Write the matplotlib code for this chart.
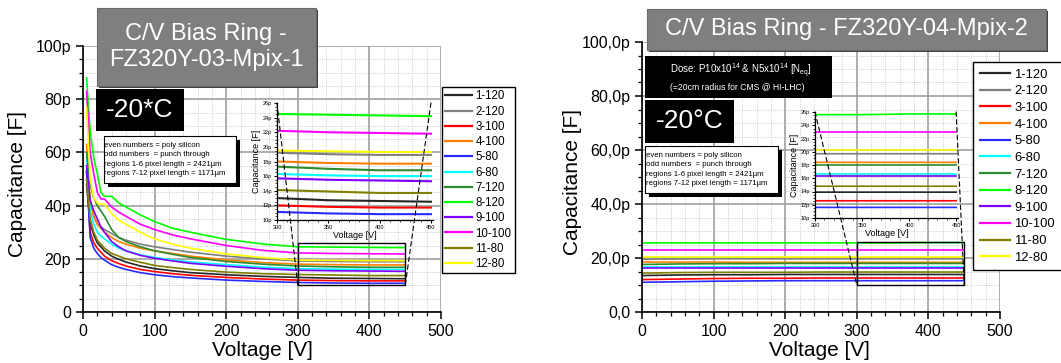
import matplotlib
matplotlib.use("Agg")
import matplotlib.pyplot as plt
from matplotlib import ticker
from matplotlib.patches import Rectangle, ConnectionPatch

plt.rcParams['font.family'] = ['Liberation Sans', 'DejaVu Sans']
plt.rcParams['mathtext.default'] = 'regular'

# ---------------- data ----------------
labels = ['1-120', '2-120', '3-100', '4-100', '5-80', '6-80',
          '7-120', '8-120', '9-100', '10-100', '11-80', '12-80']
colors = ['#262626', '#7f7f7f', '#ff0000', '#ff8000', '#2a2aff', '#00ffff',
          '#2e8b2e', '#00ff00', '#8000ff', '#ff00ff', '#808000', '#ffff00']

# left panel: FZ320Y-03-Mpix-1
volt_left = [5, 10, 15, 20, 25, 30, 40, 50, 60, 80, 100, 125, 150, 200, 250, 300, 350, 400, 450]
cap_left_1_120 = [48, 33, 29, 26, 24.5, 23, 21, 19.8, 18.8, 17.3, 16.3, 15.5, 14.8, 14.0, 13.4, 13.0, 12.7, 12.6, 12.5]
cap_left_2_120 = [52, 42, 36, 33, 32, 31, 29.5, 28, 27, 25.5, 24.5, 23.5, 22.5, 21.0, 20.0, 19.2, 19.0, 18.9, 18.9]
cap_left_3_100 = [53, 30, 26, 24, 22.5, 21, 19.3, 18.2, 17.3, 16.0, 15.2, 14.4, 13.8, 13.0, 12.4, 12.0, 11.8, 11.7, 11.7]
cap_left_4_100 = [63, 42, 36, 33, 31.5, 30, 28, 26.5, 25.5, 24.0, 23.0, 22.0, 21.0, 19.6, 18.6, 18.0, 17.8, 17.7, 17.7]
cap_left_5_80 = [53, 28, 24, 22, 20.5, 19.5, 17.8, 16.8, 16.0, 14.8, 14.0, 13.3, 12.8, 12.0, 11.5, 11.1, 10.9, 10.8, 10.8]
cap_left_6_80 = [58, 38, 33, 30, 28.5, 27.5, 25.5, 24.0, 23.0, 21.5, 20.5, 19.6, 18.8, 17.8, 16.9, 16.3, 16.1, 16.0, 16.0]
cap_left_7_120 = [60, 48, 43, 40, 38, 36, 31, 28, 26.5, 24.5, 23.0, 21.7, 20.5, 19.0, 18.0, 17.3, 17.0, 16.8, 16.8]
cap_left_8_120 = [88, 68, 58, 52, 45, 43.5, 43.5, 41, 39.5, 36.5, 34, 31.5, 30, 27.3, 25.6, 24.5, 24.4, 24.3, 24.2]
cap_left_9_100 = [55, 42, 38, 35, 32, 30, 26.5, 24.5, 23.0, 21.3, 20.2, 19.2, 18.3, 17.2, 16.3, 15.7, 15.5, 15.4, 15.3]
cap_left_10_100 = [83, 60, 52, 45, 42.5, 42.5, 39.5, 37.5, 36.0, 33.0, 31.0, 29.0, 27.5, 25.0, 23.2, 22.2, 22.0, 21.9, 21.8]
cap_left_11_80 = [50, 35, 30, 27, 25.5, 24, 22, 21, 20, 18.7, 17.5, 16.7, 16.0, 15.0, 14.4, 14.1, 13.9, 13.7, 13.7]
cap_left_12_80 = [77, 50, 43, 41, 40.5, 40.5, 37, 34.5, 33, 30, 27.5, 25.5, 24, 21.8, 20.5, 19.5, 19.4, 19.3, 19.3]

# right panel: FZ320Y-04-Mpix-2 (irradiated)
volt_right = [0, 25, 50, 100, 150, 200, 250, 300, 350, 400, 450]
cap_right_1_120 = [13.5, 13.6, 13.7, 13.8, 13.8, 13.9, 13.9, 13.9, 13.9, 13.9, 13.9]
cap_right_2_120 = [19.5, 19.6, 19.6, 19.7, 19.7, 19.7, 19.7, 19.7, 19.7, 19.7, 19.7]
cap_right_3_100 = [12.0, 12.1, 12.2, 12.4, 12.5, 12.5, 12.6, 12.6, 12.6, 12.6, 12.6]
cap_right_4_100 = [18.5, 18.5, 18.5, 18.5, 18.4, 18.4, 18.4, 18.4, 18.4, 18.4, 18.4]
cap_right_5_80 = [11.0, 11.1, 11.2, 11.4, 11.5, 11.6, 11.6, 11.6, 11.6, 11.6, 11.6]
cap_right_6_80 = [16.7, 16.7, 16.7, 16.7, 16.7, 16.7, 16.7, 16.7, 16.7, 16.7, 16.7]
cap_right_7_120 = [17.6, 17.7, 17.8, 17.9, 17.9, 18.0, 18.0, 18.0, 18.0, 18.0, 18.0]
cap_right_8_120 = [25.6, 25.6, 25.6, 25.6, 25.6, 25.6, 25.6, 25.6, 25.6, 25.7, 25.7]
cap_right_9_100 = [16.4, 16.4, 16.4, 16.4, 16.4, 16.4, 16.4, 16.4, 16.4, 16.4, 16.4]
cap_right_10_100 = [23.0, 23.0, 23.0, 23.0, 23.0, 23.0, 23.0, 23.0, 23.0, 23.0, 23.0]
cap_right_11_80 = [14.4, 14.5, 14.6, 14.7, 14.7, 14.7, 14.8, 14.8, 14.8, 14.8, 14.8]
cap_right_12_80 = [20.3, 20.3, 20.3, 20.3, 20.3, 20.3, 20.3, 20.3, 20.3, 20.3, 20.3]

left_series = [cap_left_1_120, cap_left_2_120, cap_left_3_100, cap_left_4_100,
               cap_left_5_80, cap_left_6_80, cap_left_7_120, cap_left_8_120,
               cap_left_9_100, cap_left_10_100, cap_left_11_80, cap_left_12_80]
right_series = [cap_right_1_120, cap_right_2_120, cap_right_3_100, cap_right_4_100,
                cap_right_5_80, cap_right_6_80, cap_right_7_120, cap_right_8_120,
                cap_right_9_100, cap_right_10_100, cap_right_11_80, cap_right_12_80]

W, H = 1061, 363
fig = plt.figure(figsize=(W / 100, H / 100), dpi=100)
fig.patch.set_facecolor('white')


def fr(x0, y0, x1, y1):
    """pixel box (top-left origin) -> figure fraction rect"""
    return [x0 / W, 1 - y1 / H, (x1 - x0) / W, (y1 - y0) / H]


def style_main(ax, fmt):
    ax.set_xlim(0, 500)
    ax.set_ylim(0, 100)
    for s in ['top', 'right']:
        ax.spines[s].set_visible(False)
    for s in ['left', 'bottom']:
        ax.spines[s].set_linewidth(1.2)
    ax.xaxis.set_major_locator(ticker.MultipleLocator(100))
    ax.xaxis.set_minor_locator(ticker.MultipleLocator(20))
    ax.yaxis.set_major_locator(ticker.MultipleLocator(20))
    ax.yaxis.set_minor_locator(ticker.MultipleLocator(5))
    ax.yaxis.set_major_formatter(ticker.FuncFormatter(fmt))
    ax.tick_params(which='major', length=5, width=1.1, labelsize=11.5, direction='out')
    ax.tick_params(which='minor', length=3, width=0.9, direction='out')
    ax.grid(which='major', color='#a0a0a0', lw=1.2, ls='-')
    ax.grid(which='minor', color='#bdbdbd', lw=0.6, ls=':')
    ax.set_axisbelow(True)
    ax.set_xlabel('Voltage [V]', fontsize=15, va='center')
    ax.set_ylabel('Capacitance [F]', fontsize=15, va='center')


def style_inset(ins, ls, lbl):
    ins.set_xlim(300, 452)
    ins.set_ylim(10, 26)
    ins.patch.set_facecolor('none')
    for s in ['top', 'right']:
        ins.spines[s].set_visible(False)
    for s in ['left', 'bottom']:
        ins.spines[s].set_linewidth(0.9)
    ins.xaxis.set_major_locator(ticker.FixedLocator([300, 350, 400, 450]))
    ins.xaxis.set_minor_locator(ticker.MultipleLocator(10))
    ins.yaxis.set_major_locator(ticker.MultipleLocator(2))
    ins.yaxis.set_minor_locator(ticker.MultipleLocator(0.5))
    ins.yaxis.set_major_formatter(ticker.FuncFormatter(lambda v, p: f'{v:.0f}p'))
    ins.tick_params(which='major', length=2.5, width=0.7, labelsize=ls, pad=1)
    ins.tick_params(which='minor', length=1.5, width=0.5)
    ins.set_xlabel('Voltage [V]', fontsize=lbl, labelpad=1)
    ins.set_ylabel('Capacitance [F]', fontsize=lbl, labelpad=1)


fmt_left = lambda v, p: '0' if v == 0 else f'{v:.0f}p'
fmt_right = lambda v, p: '0,0' if v == 0 else (f'{v:.1f}p').replace('.', ',')

# ---------------- left panel ----------------
axL = fig.add_axes(fr(83, 46, 441, 312))
style_main(axL, fmt_left)
linesL = []
for lab, col, ys in zip(labels, colors, left_series):
    ln, = axL.plot(volt_left, ys, color=col, lw=1.2, label=lab)
    linesL.append(ln)
axL.xaxis.set_label_coords(0.5, -0.143)
axL.yaxis.set_label_coords(-0.184, 0.48)
axL.add_patch(Rectangle((300, 10), 150, 16, fill=False, ec='black', lw=1.0, zorder=5))

insL = fig.add_axes(fr(277, 103, 433, 220))
for col, ys in zip(colors, left_series):
    insL.plot(volt_left, ys, color=col, lw=1.5)
style_inset(insL, 4, 6.5)

for xa, xb in [(300, 300), (450, 450)]:
    cp = ConnectionPatch(xyA=(xa, 26), coordsA=insL.transData,
                         xyB=(xb, 10), coordsB=axL.transData,
                         ls=(0, (4, 3)), color='black', lw=0.8, zorder=6)
    fig.add_artist(cp)

legL = axL.legend(handles=linesL, loc='upper left', bbox_to_anchor=(442 / W, 1 - 87 / H),
                  bbox_transform=fig.transFigure, borderaxespad=0, fontsize=8.3,
                  frameon=True, fancybox=False, edgecolor='black', framealpha=1,
                  handlelength=2.34, handletextpad=0.26, labelspacing=0.28, borderpad=0.3)
legL.get_frame().set_linewidth(1.0)
for h in legL.legend_handles:
    h.set_linewidth(1.6)

# ---------------- right panel ----------------
axR = fig.add_axes(fr(642, 42, 1000, 312))
style_main(axR, fmt_right)
linesR = []
for lab, col, ys in zip(labels, colors, right_series):
    ln, = axR.plot(volt_right, ys, color=col, lw=1.2, label=lab)
    linesR.append(ln)
axR.xaxis.set_label_coords(0.497, -0.143)
axR.yaxis.set_label_coords(-0.193, 0.48)
axR.add_patch(Rectangle((300, 10), 150, 16, fill=False, ec='black', lw=1.0, zorder=5))

insR = fig.add_axes(fr(815, 112, 958, 218))
for col, ys in zip(colors, right_series):
    insR.plot(volt_right, ys, color=col, lw=1.2)
style_inset(insR, 4, 6.5)

for xa, xb in [(300, 300), (450, 450)]:
    cp = ConnectionPatch(xyA=(xa, 26), coordsA=insR.transData,
                         xyB=(xb, 10), coordsB=axR.transData,
                         ls=(0, (4, 3)), color='black', lw=0.8, zorder=6)
    fig.add_artist(cp)

legR = axR.legend(handles=linesR, loc='upper left', bbox_to_anchor=(973 / W, 1 - 62 / H),
                  bbox_transform=fig.transFigure, borderaxespad=0, fontsize=9.4,
                  frameon=True, fancybox=False, edgecolor='black', framealpha=1,
                  handlelength=2.37, handletextpad=0.3, labelspacing=0.345, borderpad=0.5)
legR.get_frame().set_linewidth(1.0)
for h in legR.legend_handles:
    h.set_linewidth(1.6)


# ---------------- annotation boxes ----------------
def box(x0, y0, x1, y1, fc, ec='none', lw=0, z=7):
    r = Rectangle((x0 / W, 1 - y1 / H), (x1 - x0) / W, (y1 - y0) / H,
                  transform=fig.transFigure, facecolor=fc, edgecolor=ec, lw=lw, zorder=z)
    fig.add_artist(r)


def ftext(x, y, s, **kw):
    fig.text(x / W, 1 - y / H, s, zorder=9, **kw)


# left title
box(99, 10, 318, 88, '#404040', z=7)
box(97, 8, 316, 86, '#7f7f7f', ec='#6a6a6a', lw=0.8, z=7.5)
ftext(206, 47, 'C/V Bias Ring -\nFZ320Y-03-Mpix-1', color='white', fontsize=17,
      ha='center', va='center', linespacing=1.25)
# left temperature
box(96, 89, 184, 131, 'black')
ftext(140, 110, '-20*C', color='white', fontsize=19, ha='center', va='center')
# left info box
box(108, 140, 240, 187, 'black')
box(104, 136, 236, 183, 'white', ec='black', lw=0.8, z=7.5)
info = ('even numbers = poly silicon\nodd numbers  = punch through\n'
        'regions 1-6 pixel length = 2421µm\nregions 7-12 pixel length = 1171µm')
ftext(104.5, 159.5, info, color='black', fontsize=5.6, ha='left', va='center', linespacing=1.45)

# right title
box(649, 11, 1048, 52, '#404040', z=7)
box(647, 9, 1046, 50, '#7f7f7f', ec='#6a6a6a', lw=0.8, z=7.5)
ftext(846, 29.5, 'C/V Bias Ring - FZ320Y-04-Mpix-2', color='white', fontsize=17,
      ha='center', va='center')
# dose box
box(645, 56, 832, 98, 'black')
ftext(670, 71, 'Dose: P10x10$^{14}$ & N5x10$^{14}$ [N$_{eq}$]', color='white',
      fontsize=7, ha='left', va='center')
ftext(670, 87.5, '(=20cm radius for CMS @ HI-LHC)', color='white', fontsize=6.2,
      ha='left', va='center')
# right temperature
box(645, 100, 734, 143, 'black')
ftext(689.5, 121.5, '-20°C', color='white', fontsize=19, ha='center', va='center')
# right info box
box(649, 150, 782, 197, 'black')
box(645, 146, 778, 193, 'white', ec='black', lw=0.8, z=7.5)
ftext(645.5, 169.5, info, color='black', fontsize=5.6, ha='left', va='center', linespacing=1.45)

fig.savefig('out.png', dpi=100)
